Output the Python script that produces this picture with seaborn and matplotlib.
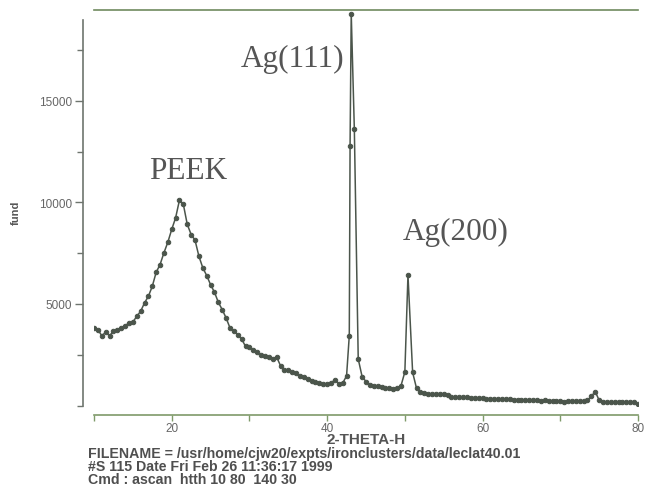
import matplotlib
matplotlib.use('Agg')
import matplotlib.pyplot as plt
import seaborn as sns
from matplotlib.ticker import MultipleLocator

# scan points (2-theta in degrees, counts)
two_theta = [10.0, 10.5, 11.0, 11.5, 12.0, 12.5, 13.0, 13.5, 14.0, 14.5,
             15.0, 15.5, 16.0, 16.5, 17.0, 17.5, 18.0, 18.5, 19.0, 19.5,
             20.0, 20.5, 21.0, 21.5, 22.0, 22.5, 23.0, 23.5, 24.0, 24.5,
             25.0, 25.5, 26.0, 26.5, 27.0, 27.5, 28.0, 28.5, 29.0, 29.5,
             30.0, 30.5, 31.0, 31.5, 32.0, 32.5, 33.0, 33.5, 34.0, 34.5,
             35.0, 35.5, 36.0, 36.5, 37.0, 37.5, 38.0, 38.5, 39.0, 39.5,
             40.0, 40.5, 41.0, 41.5, 42.0, 42.5, 42.85, 42.95, 43.1, 43.5,
             44.0, 44.5, 45.0, 45.5, 46.0, 46.5, 47.0, 47.5, 48.0, 48.5,
             49.0, 49.5, 50.0, 50.4, 51.0, 51.5, 52.0, 52.5, 53.0, 53.5,
             54.0, 54.5, 55.0, 55.5, 56.0, 56.5, 57.0, 57.5, 58.0, 58.5,
             59.0, 59.5, 60.0, 60.5, 61.0, 61.5, 62.0, 62.5, 63.0, 63.5,
             64.0, 64.5, 65.0, 65.5, 66.0, 66.5, 67.0, 67.5, 68.0, 68.5,
             69.0, 69.5, 70.0, 70.5, 71.0, 71.5, 72.0, 72.5, 73.0, 73.5,
             74.0, 74.5, 75.0, 75.5, 76.0, 76.5, 77.0, 77.5, 78.0, 78.5,
             79.0, 79.5, 80.0]
counts = [3820, 3730, 3440, 3600, 3440, 3650, 3730, 3820, 3930, 4060,
          4110, 4390, 4640, 5050, 5380, 5870, 6560, 6940, 7520, 8040,
          8670, 9240, 10120, 9900, 8920, 8420, 8140, 7350, 6780, 6400,
          5950, 5580, 5080, 4720, 4310, 3820, 3650, 3490, 3270, 2910,
          2880, 2710, 2620, 2470, 2420, 2390, 2290, 2390, 1960, 1730,
          1730, 1630, 1600, 1430, 1380, 1300, 1230, 1150, 1100, 1070,
          1070, 1100, 1270, 1070, 1100, 1460, 3440, 12800, 19300, 13600,
          2290, 1420, 1180, 1020, 970, 940, 900, 860, 850, 830,
          860, 970, 1650, 6430, 1630, 850, 660, 610, 580, 560,
          550, 550, 550, 540, 420, 410, 410, 400, 400, 390,
          390, 370, 360, 340, 340, 330, 320, 330, 310, 300,
          290, 290, 260, 250, 260, 250, 250, 240, 250, 230,
          240, 220, 230, 190, 220, 200, 230, 220, 240, 250,
          460, 680, 260, 190, 180, 180, 170, 180, 170, 160,
          170, 150, 60]

peak_labels = ['PEEK', 'Ag(111)', 'Ag(200)']
label_x = [22.1, 35.6, 56.6]
label_y = [11200, 16700, 8200]

footer = ['FILENAME = /usr/home/cjw20/expts/ironclusters/data/leclat40.01',
          '#S 115 Date Fri Feb 26 11:36:17 1999',
          'Cmd : ascan  htth 10 80  140 30']

sns.set_style('ticks')
plt.rcParams['font.family'] = ['Liberation Sans', 'DejaVu Sans']

fig = plt.figure(figsize=(6.45, 5.02), dpi=100)
ax = fig.add_axes([94 / 645, 1 - 406.5 / 502, 544 / 645, 396 / 502])

line_col = '#4b554b'
sns.lineplot(x=two_theta, y=counts, sort=False, ax=ax, color=line_col,
             linewidth=1.1, marker='o', markersize=3.2,
             markeredgecolor=line_col, markerfacecolor=line_col)

ax.set_xlim(10, 80)
ax.set_ylim(0, 19500)

ax.xaxis.set_major_locator(MultipleLocator(20))
ax.xaxis.set_minor_locator(MultipleLocator(10))
ax.yaxis.set_major_locator(MultipleLocator(5000))
ax.yaxis.set_minor_locator(MultipleLocator(2500))
ax.set_yticks([5000, 10000, 15000])

ax.spines['right'].set_visible(False)
ax.spines['left'].set_position(('outward', 8))
ax.spines['bottom'].set_position(('outward', 7))
ax.spines['left'].set_bounds(0, 19000)
ax.spines['left'].set_color('#6e756e')
ax.spines['bottom'].set_color('#7f9a6a')
ax.spines['top'].set_color('#6f8a5f')
for s in ['left', 'bottom', 'top']:
    ax.spines[s].set_linewidth(1.2)

ax.tick_params(axis='y', which='major', length=6, width=1, color='#6e756e',
               labelsize=8.5, labelcolor='#666666', pad=2)
ax.tick_params(axis='y', which='minor', length=4, width=1, color='#6e756e')
ax.tick_params(axis='x', which='both', length=4, width=1, color='#7f9a6a',
               labelsize=8.5, labelcolor='#666666', pad=1)

ax.set_xlabel('2-THETA-H', fontsize=11, fontweight='bold', color='#555555')
ax.xaxis.set_label_coords(0.5, -0.068)
ax.xaxis.label.set_va('top')
ax.set_ylabel('fund', fontsize=8, fontweight='bold', color='#555555')
ax.yaxis.set_label_coords(-0.143, 0.49)
ax.yaxis.label.set_va('center')

for txt, lx, ly in zip(peak_labels, label_x, label_y):
    ax.text(lx, ly, txt, ha='center', va='baseline', fontsize=22.5,
            family=['Liberation Serif', 'DejaVu Serif'], color='#555555')

for i, line in enumerate(footer):
    fig.text(88 / 645, 1 - (454 + 13 * i) / 502, line, ha='left', va='center',
             fontsize=10.2, fontweight='bold', color='#4f4f4f',
             family=['Liberation Sans Narrow', 'Liberation Sans'])

fig.savefig('out.png', dpi=100)
